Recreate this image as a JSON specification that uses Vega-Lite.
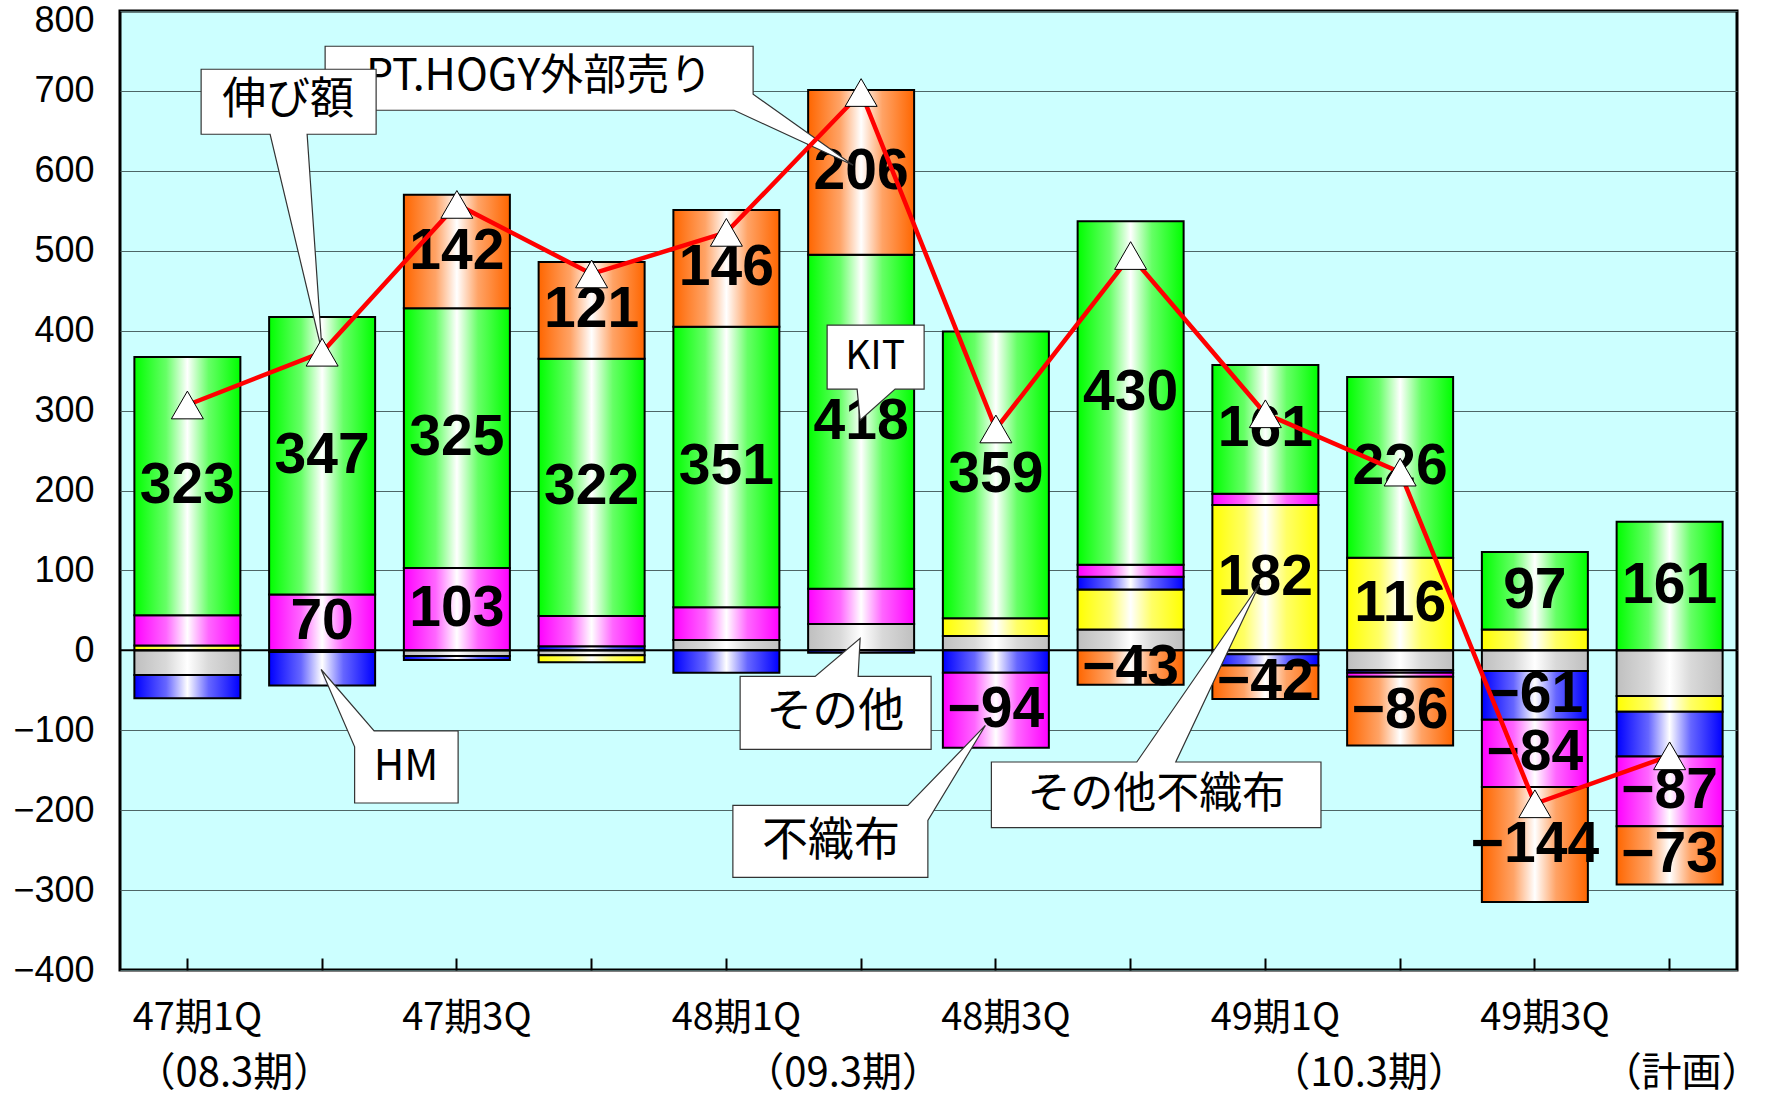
{
  "$schema": "https://vega.github.io/schema/vega-lite/v6.json",
  "width": 1617,
  "height": 959,
  "autosize": "none",
  "padding": {"left": 120, "top": 11, "right": 32, "bottom": 131},
  "background": "white",
  "config": {"view": {"fill": "#CCFFFF", "stroke": "black", "strokeWidth": 3}},
  "data": {"values": [
    {"cat": "47期1Q", "series": "その他", "ord": 1, "value": -31, "show": false},
    {"cat": "47期1Q", "series": "その他不織布", "ord": 2, "value": 6, "show": false},
    {"cat": "47期1Q", "series": "HM", "ord": 3, "value": -29, "show": false},
    {"cat": "47期1Q", "series": "不織布", "ord": 4, "value": 38, "show": false},
    {"cat": "47期1Q", "series": "KIT", "ord": 5, "value": 323, "show": true},
    {"cat": "47期2Q", "series": "その他", "ord": 1, "value": -2, "show": false},
    {"cat": "47期2Q", "series": "HM", "ord": 3, "value": -42, "show": false},
    {"cat": "47期2Q", "series": "不織布", "ord": 4, "value": 70, "show": true},
    {"cat": "47期2Q", "series": "KIT", "ord": 5, "value": 347, "show": true},
    {"cat": "47期3Q", "series": "その他", "ord": 1, "value": -7, "show": false},
    {"cat": "47期3Q", "series": "HM", "ord": 3, "value": -5, "show": false},
    {"cat": "47期3Q", "series": "不織布", "ord": 4, "value": 103, "show": true},
    {"cat": "47期3Q", "series": "KIT", "ord": 5, "value": 325, "show": true},
    {"cat": "47期3Q", "series": "PT.HOGY外部売り", "ord": 6, "value": 142, "show": true},
    {"cat": "47期4Q", "series": "その他", "ord": 1, "value": -6, "show": false},
    {"cat": "47期4Q", "series": "その他不織布", "ord": 2, "value": -9, "show": false},
    {"cat": "47期4Q", "series": "HM", "ord": 3, "value": 5, "show": false},
    {"cat": "47期4Q", "series": "不織布", "ord": 4, "value": 38, "show": false},
    {"cat": "47期4Q", "series": "KIT", "ord": 5, "value": 322, "show": true},
    {"cat": "47期4Q", "series": "PT.HOGY外部売り", "ord": 6, "value": 121, "show": true},
    {"cat": "48期1Q", "series": "その他", "ord": 1, "value": 13, "show": false},
    {"cat": "48期1Q", "series": "HM", "ord": 3, "value": -28, "show": false},
    {"cat": "48期1Q", "series": "不織布", "ord": 4, "value": 41, "show": false},
    {"cat": "48期1Q", "series": "KIT", "ord": 5, "value": 351, "show": true},
    {"cat": "48期1Q", "series": "PT.HOGY外部売り", "ord": 6, "value": 146, "show": true},
    {"cat": "48期2Q", "series": "その他", "ord": 1, "value": 33, "show": false},
    {"cat": "48期2Q", "series": "HM", "ord": 3, "value": -3, "show": false},
    {"cat": "48期2Q", "series": "不織布", "ord": 4, "value": 44, "show": false},
    {"cat": "48期2Q", "series": "KIT", "ord": 5, "value": 418, "show": true},
    {"cat": "48期2Q", "series": "PT.HOGY外部売り", "ord": 6, "value": 206, "show": true},
    {"cat": "48期3Q", "series": "その他", "ord": 1, "value": 18, "show": false},
    {"cat": "48期3Q", "series": "その他不織布", "ord": 2, "value": 22, "show": false},
    {"cat": "48期3Q", "series": "HM", "ord": 3, "value": -28, "show": false},
    {"cat": "48期3Q", "series": "不織布", "ord": 4, "value": -94, "show": true},
    {"cat": "48期3Q", "series": "KIT", "ord": 5, "value": 359, "show": true},
    {"cat": "48期4Q", "series": "その他", "ord": 1, "value": 26, "show": false},
    {"cat": "48期4Q", "series": "その他不織布", "ord": 2, "value": 50, "show": false},
    {"cat": "48期4Q", "series": "HM", "ord": 3, "value": 16, "show": false},
    {"cat": "48期4Q", "series": "不織布", "ord": 4, "value": 15, "show": false},
    {"cat": "48期4Q", "series": "KIT", "ord": 5, "value": 430, "show": true},
    {"cat": "48期4Q", "series": "PT.HOGY外部売り", "ord": 6, "value": -43, "show": true},
    {"cat": "49期1Q", "series": "その他", "ord": 1, "value": -5, "show": false},
    {"cat": "49期1Q", "series": "その他不織布", "ord": 2, "value": 182, "show": true},
    {"cat": "49期1Q", "series": "HM", "ord": 3, "value": -14, "show": false},
    {"cat": "49期1Q", "series": "不織布", "ord": 4, "value": 14, "show": false},
    {"cat": "49期1Q", "series": "KIT", "ord": 5, "value": 161, "show": true},
    {"cat": "49期1Q", "series": "PT.HOGY外部売り", "ord": 6, "value": -42, "show": true},
    {"cat": "49期2Q", "series": "その他", "ord": 1, "value": -25, "show": false},
    {"cat": "49期2Q", "series": "その他不織布", "ord": 2, "value": 116, "show": true},
    {"cat": "49期2Q", "series": "HM", "ord": 3, "value": -3, "show": false},
    {"cat": "49期2Q", "series": "不織布", "ord": 4, "value": -5, "show": false},
    {"cat": "49期2Q", "series": "KIT", "ord": 5, "value": 226, "show": true},
    {"cat": "49期2Q", "series": "PT.HOGY外部売り", "ord": 6, "value": -86, "show": true},
    {"cat": "49期3Q", "series": "その他", "ord": 1, "value": -26, "show": false},
    {"cat": "49期3Q", "series": "その他不織布", "ord": 2, "value": 26, "show": false},
    {"cat": "49期3Q", "series": "HM", "ord": 3, "value": -61, "show": true},
    {"cat": "49期3Q", "series": "不織布", "ord": 4, "value": -84, "show": true},
    {"cat": "49期3Q", "series": "KIT", "ord": 5, "value": 97, "show": true},
    {"cat": "49期3Q", "series": "PT.HOGY外部売り", "ord": 6, "value": -144, "show": true},
    {"cat": "49期4Q", "series": "その他", "ord": 1, "value": -57, "show": false},
    {"cat": "49期4Q", "series": "その他不織布", "ord": 2, "value": -20, "show": false},
    {"cat": "49期4Q", "series": "HM", "ord": 3, "value": -56, "show": false},
    {"cat": "49期4Q", "series": "不織布", "ord": 4, "value": -87, "show": true},
    {"cat": "49期4Q", "series": "KIT", "ord": 5, "value": 161, "show": true},
    {"cat": "49期4Q", "series": "PT.HOGY外部売り", "ord": 6, "value": -73, "show": true}
  ]},
  "transform": [
    {"stack": "value", "groupby": ["cat"], "sort": [{"field": "ord", "order": "ascending"}], "as": ["v0", "v1"]},
    {"calculate": "(datum.v0 + datum.v1) / 2", "as": "mid"}
  ],
  "layer": [
    {
      "transform": [{"filter": "datum.series === 'その他'"}],
      "mark": {"type": "bar", "stroke": "black", "strokeWidth": 2,
        "fill": {"gradient": "linear", "x1": 0, "x2": 1, "y1": 0, "y2": 0, "stops": [
          {"offset": 0, "color": "#BFBFBF"}, {"offset": 0.3, "color": "#D9D9D9"}, {"offset": 0.5, "color": "#FFFFFF"}, {"offset": 0.7, "color": "#D9D9D9"}, {"offset": 1, "color": "#BFBFBF"}]}},
      "encoding": {
        "x": {"field": "cat", "type": "nominal", "sort": null,
          "scale": {"domain": ["47期1Q","47期2Q","47期3Q","47期4Q","48期1Q","48期2Q","48期3Q","48期4Q","49期1Q","49期2Q","49期3Q","49期4Q"], "paddingInner": 0.2134, "paddingOuter": 0.1067},
          "axis": {"title": null, "domain": false, "grid": false, "ticks": true, "tickSize": -12, "tickWidth": 2, "tickColor": "black", "bandPosition": 0.5,
            "labelExpr": "indexof(['47期1Q','47期3Q','48期1Q','48期3Q','49期1Q','49期3Q'], datum.value) >= 0 ? datum.value : ''",
            "labelFont": "Noto Sans CJK JP", "labelFontSize": 38, "labelColor": "black", "labelPadding": 41, "labelOffset": 10, "labelAngle": 0}},
        "y": {"field": "v0", "type": "quantitative", "scale": {"domain": [-400, 800], "nice": false},
          "axis": {"title": null, "values": [-400,-300,-200,-100,0,100,200,300,400,500,600,700,800], "grid": true, "gridColor": "#4d6666", "gridWidth": 1, "domain": false, "ticks": false,
            "labelFont": "Liberation Sans", "labelFontSize": 36, "labelColor": "black", "labelPadding": 26,
            "labelOffset": {"condition": {"test": "datum.value === 800", "value": 9}, "value": 0}}},
        "y2": {"field": "v1"}
      }
    },
    {
      "transform": [{"filter": "datum.series === 'その他不織布'"}],
      "mark": {"type": "bar", "stroke": "black", "strokeWidth": 2,
        "fill": {"gradient": "linear", "x1": 0, "x2": 1, "y1": 0, "y2": 0, "stops": [
          {"offset": 0, "color": "#FFFF00"}, {"offset": 0.3, "color": "#FFFF66"}, {"offset": 0.5, "color": "#FFFFFF"}, {"offset": 0.7, "color": "#FFFF66"}, {"offset": 1, "color": "#FFFF00"}]}},
      "encoding": {
        "x": {"field": "cat", "type": "nominal", "sort": null, "axis": {"title": null}},
        "y": {"field": "v0", "type": "quantitative", "scale": {"domain": [-400, 800], "nice": false}, "axis": {"title": null}},
        "y2": {"field": "v1"}
      }
    },
    {
      "transform": [{"filter": "datum.series === 'HM'"}],
      "mark": {"type": "bar", "stroke": "black", "strokeWidth": 2,
        "fill": {"gradient": "linear", "x1": 0, "x2": 1, "y1": 0, "y2": 0, "stops": [
          {"offset": 0, "color": "#0000FF"}, {"offset": 0.3, "color": "#6666FF"}, {"offset": 0.5, "color": "#FFFFFF"}, {"offset": 0.7, "color": "#6666FF"}, {"offset": 1, "color": "#0000FF"}]}},
      "encoding": {
        "x": {"field": "cat", "type": "nominal", "sort": null, "axis": {"title": null}},
        "y": {"field": "v0", "type": "quantitative", "scale": {"domain": [-400, 800], "nice": false}, "axis": {"title": null}},
        "y2": {"field": "v1"}
      }
    },
    {
      "transform": [{"filter": "datum.series === '不織布'"}],
      "mark": {"type": "bar", "stroke": "black", "strokeWidth": 2,
        "fill": {"gradient": "linear", "x1": 0, "x2": 1, "y1": 0, "y2": 0, "stops": [
          {"offset": 0, "color": "#FF00FF"}, {"offset": 0.3, "color": "#FF66FF"}, {"offset": 0.5, "color": "#FFFFFF"}, {"offset": 0.7, "color": "#FF66FF"}, {"offset": 1, "color": "#FF00FF"}]}},
      "encoding": {
        "x": {"field": "cat", "type": "nominal", "sort": null, "axis": {"title": null}},
        "y": {"field": "v0", "type": "quantitative", "scale": {"domain": [-400, 800], "nice": false}, "axis": {"title": null}},
        "y2": {"field": "v1"}
      }
    },
    {
      "transform": [{"filter": "datum.series === 'KIT'"}],
      "mark": {"type": "bar", "stroke": "black", "strokeWidth": 2,
        "fill": {"gradient": "linear", "x1": 0, "x2": 1, "y1": 0, "y2": 0, "stops": [
          {"offset": 0, "color": "#00FF00"}, {"offset": 0.3, "color": "#66FF66"}, {"offset": 0.5, "color": "#FFFFFF"}, {"offset": 0.7, "color": "#66FF66"}, {"offset": 1, "color": "#00FF00"}]}},
      "encoding": {
        "x": {"field": "cat", "type": "nominal", "sort": null, "axis": {"title": null}},
        "y": {"field": "v0", "type": "quantitative", "scale": {"domain": [-400, 800], "nice": false}, "axis": {"title": null}},
        "y2": {"field": "v1"}
      }
    },
    {
      "transform": [{"filter": "datum.series === 'PT.HOGY外部売り'"}],
      "mark": {"type": "bar", "stroke": "black", "strokeWidth": 2,
        "fill": {"gradient": "linear", "x1": 0, "x2": 1, "y1": 0, "y2": 0, "stops": [
          {"offset": 0, "color": "#FF6600"}, {"offset": 0.3, "color": "#FFA366"}, {"offset": 0.5, "color": "#FFFFFF"}, {"offset": 0.7, "color": "#FFA366"}, {"offset": 1, "color": "#FF6600"}]}},
      "encoding": {
        "x": {"field": "cat", "type": "nominal", "sort": null, "axis": {"title": null}},
        "y": {"field": "v0", "type": "quantitative", "scale": {"domain": [-400, 800], "nice": false}, "axis": {"title": null}},
        "y2": {"field": "v1"}
      }
    },
    {
      "data": {"values": [{}]},
      "mark": {"type": "rule", "color": "black", "strokeWidth": 2},
      "encoding": {"y": {"datum": 0, "type": "quantitative", "scale": {"domain": [-400, 800], "nice": false}, "axis": {"title": null}}}
    },
    {
      "transform": [{"filter": "datum.show"}],
      "mark": {"type": "text", "font": "Liberation Sans", "fontWeight": "bold", "fontSize": 57, "color": "black", "baseline": "middle", "align": "center"},
      "encoding": {
        "x": {"field": "cat", "type": "nominal", "sort": null, "axis": {"title": null}},
        "y": {"field": "mid", "type": "quantitative", "scale": {"domain": [-400, 800], "nice": false}, "axis": {"title": null}},
        "text": {"field": "value", "type": "quantitative", "format": "d"}
      }
    },
    {
      "data": {"values": [{"t": "PT.HOGY外部売り"}]},
      "encoding": {"x": {"datum": "48期2Q", "type": "nominal", "axis": {"title": null}}, "y": {"datum": 607, "type": "quantitative", "scale": {"domain": [-400, 800], "nice": false}, "axis": {"title": null}}},
      "layer": [
        {"mark": {"type": "point", "shape": "M-536,-119H-108V-71L-8,0L-127,-55H-536Z", "size": 4, "filled": true, "fill": "white", "stroke": "#333333", "strokeWidth": 1.2, "opacity": 1}},
        {"mark": {"type": "text", "font": "Noto Sans CJK JP", "fontSize": 43, "color": "black", "baseline": "middle", "align": "center", "dx": -322, "dy": -88}, "encoding": {"text": {"field": "t"}}}
      ]
    },
    {
      "data": {"values": [{"t": "伸び額"}]},
      "encoding": {"x": {"datum": "47期2Q", "type": "nominal", "axis": {"title": null}}, "y": {"datum": 373, "type": "quantitative", "scale": {"domain": [-400, 800], "nice": false}, "axis": {"title": null}}},
      "layer": [
        {"mark": {"type": "point", "shape": "M-121,-283H54V-218H-15L0,0L-52,-218H-121Z", "size": 4, "filled": true, "fill": "white", "stroke": "#333333", "strokeWidth": 1.2, "opacity": 1}},
        {"mark": {"type": "text", "font": "Noto Sans CJK JP", "fontSize": 44, "color": "black", "baseline": "middle", "align": "center", "dx": -34, "dy": -251}, "encoding": {"text": {"field": "t"}}}
      ]
    },
    {
      "data": {"values": [{"t": "KIT"}]},
      "encoding": {"x": {"datum": "48期2Q", "type": "nominal", "axis": {"title": null}}, "y": {"datum": 288, "type": "quantitative", "scale": {"domain": [-400, 800], "nice": false}, "axis": {"title": null}}},
      "layer": [
        {"mark": {"type": "point", "shape": "M-34,-95H63V-31H34L-1,0L-4,-31H-34Z", "size": 4, "filled": true, "fill": "white", "stroke": "#333333", "strokeWidth": 1.2, "opacity": 1}},
        {"mark": {"type": "text", "font": "Noto Sans CJK JP", "fontSize": 39, "color": "black", "baseline": "middle", "align": "center", "dx": 14, "dy": -63}, "encoding": {"text": {"field": "t"}}}
      ]
    },
    {
      "data": {"values": [{"t": "その他"}]},
      "encoding": {"x": {"datum": "48期2Q", "type": "nominal", "axis": {"title": null}}, "y": {"datum": 15, "type": "quantitative", "scale": {"domain": [-400, 800], "nice": false}, "axis": {"title": null}}},
      "layer": [
        {"mark": {"type": "point", "shape": "M-121,38H-46L-1,0L-3,38H70V111H-121Z", "size": 4, "filled": true, "fill": "white", "stroke": "#333333", "strokeWidth": 1.2, "opacity": 1}},
        {"mark": {"type": "text", "font": "Noto Sans CJK JP", "fontSize": 46, "color": "black", "baseline": "middle", "align": "center", "dx": -26, "dy": 74}, "encoding": {"text": {"field": "t"}}}
      ]
    },
    {
      "data": {"values": [{"t": "HM"}]},
      "encoding": {"x": {"datum": "47期2Q", "type": "nominal", "axis": {"title": null}}, "y": {"datum": -24, "type": "quantitative", "scale": {"domain": [-400, 800], "nice": false}, "axis": {"title": null}}},
      "layer": [
        {"mark": {"type": "point", "shape": "M52,61.5H136V133.5H32.5V77.3L-1,0Z", "size": 4, "filled": true, "fill": "white", "stroke": "#333333", "strokeWidth": 1.2, "opacity": 1}},
        {"mark": {"type": "text", "font": "Noto Sans CJK JP", "fontSize": 42, "color": "black", "baseline": "middle", "align": "center", "dx": 84, "dy": 97}, "encoding": {"text": {"field": "t"}}}
      ]
    },
    {
      "data": {"values": [{"t": "不織布"}]},
      "encoding": {"x": {"datum": "48期3Q", "type": "nominal", "axis": {"title": null}}, "y": {"datum": -94, "type": "quantitative", "scale": {"domain": [-400, 800], "nice": false}, "axis": {"title": null}}},
      "layer": [
        {"mark": {"type": "point", "shape": "M-263,80H-88L-10.5,0L-68,95V152H-263Z", "size": 4, "filled": true, "fill": "white", "stroke": "#333333", "strokeWidth": 1.2, "opacity": 1}},
        {"mark": {"type": "text", "font": "Noto Sans CJK JP", "fontSize": 46, "color": "black", "baseline": "middle", "align": "center", "dx": -165, "dy": 116}, "encoding": {"text": {"field": "t"}}}
      ]
    },
    {
      "data": {"values": [{"t": "その他不織布"}]},
      "encoding": {"x": {"datum": "49期1Q", "type": "nominal", "axis": {"title": null}}, "y": {"datum": 83, "type": "quantitative", "scale": {"domain": [-400, 800], "nice": false}, "axis": {"title": null}}},
      "layer": [
        {"mark": {"type": "point", "shape": "M-274,178H-128.6L-5.7,0L-89.6,178H55.6V243.6H-274Z", "size": 4, "filled": true, "fill": "white", "stroke": "#333333", "strokeWidth": 1.2, "opacity": 1}},
        {"mark": {"type": "text", "font": "Noto Sans CJK JP", "fontSize": 43, "color": "black", "baseline": "middle", "align": "center", "dx": -109, "dy": 211}, "encoding": {"text": {"field": "t"}}}
      ]
    },
    {
      "mark": {"type": "line", "color": "#FF0000", "strokeWidth": 4.5,
        "point": {"shape": "triangle-up", "size": 1024, "filled": true, "fill": "white", "stroke": "black", "strokeWidth": 1, "opacity": 1}},
      "encoding": {
        "x": {"field": "cat", "type": "nominal", "sort": null, "axis": {"title": null}},
        "y": {"aggregate": "sum", "field": "value", "type": "quantitative", "scale": {"domain": [-400, 800], "nice": false}, "axis": {"title": null}}
      }
    },
    {
      "data": {"values": [{"t": "（08.3期）"}]},
      "mark": {"type": "text", "font": "Noto Sans CJK JP", "fontSize": 40, "color": "black", "baseline": "middle", "align": "center", "dx": 47, "dy": 104},
      "encoding": {"x": {"datum": "47期1Q", "type": "nominal", "axis": {"title": null}}, "y": {"datum": -400, "type": "quantitative", "scale": {"domain": [-400, 800], "nice": false}, "axis": {"title": null}}, "text": {"field": "t"}}
    },
    {
      "data": {"values": [{"t": "（09.3期）"}]},
      "mark": {"type": "text", "font": "Noto Sans CJK JP", "fontSize": 40, "color": "black", "baseline": "middle", "align": "center", "dx": -18, "dy": 104},
      "encoding": {"x": {"datum": "48期2Q", "type": "nominal", "axis": {"title": null}}, "y": {"datum": -400, "type": "quantitative", "scale": {"domain": [-400, 800], "nice": false}, "axis": {"title": null}}, "text": {"field": "t"}}
    },
    {
      "data": {"values": [{"t": "（10.3期）"}]},
      "mark": {"type": "text", "font": "Noto Sans CJK JP", "fontSize": 40, "color": "black", "baseline": "middle", "align": "center", "dx": -31, "dy": 104},
      "encoding": {"x": {"datum": "49期2Q", "type": "nominal", "axis": {"title": null}}, "y": {"datum": -400, "type": "quantitative", "scale": {"domain": [-400, 800], "nice": false}, "axis": {"title": null}}, "text": {"field": "t"}}
    },
    {
      "data": {"values": [{"t": "（計画）"}]},
      "mark": {"type": "text", "font": "Noto Sans CJK JP", "fontSize": 40, "color": "black", "baseline": "middle", "align": "center", "dx": 12, "dy": 104},
      "encoding": {"x": {"datum": "49期4Q", "type": "nominal", "axis": {"title": null}}, "y": {"datum": -400, "type": "quantitative", "scale": {"domain": [-400, 800], "nice": false}, "axis": {"title": null}}, "text": {"field": "t"}}
    }
  ]
}
